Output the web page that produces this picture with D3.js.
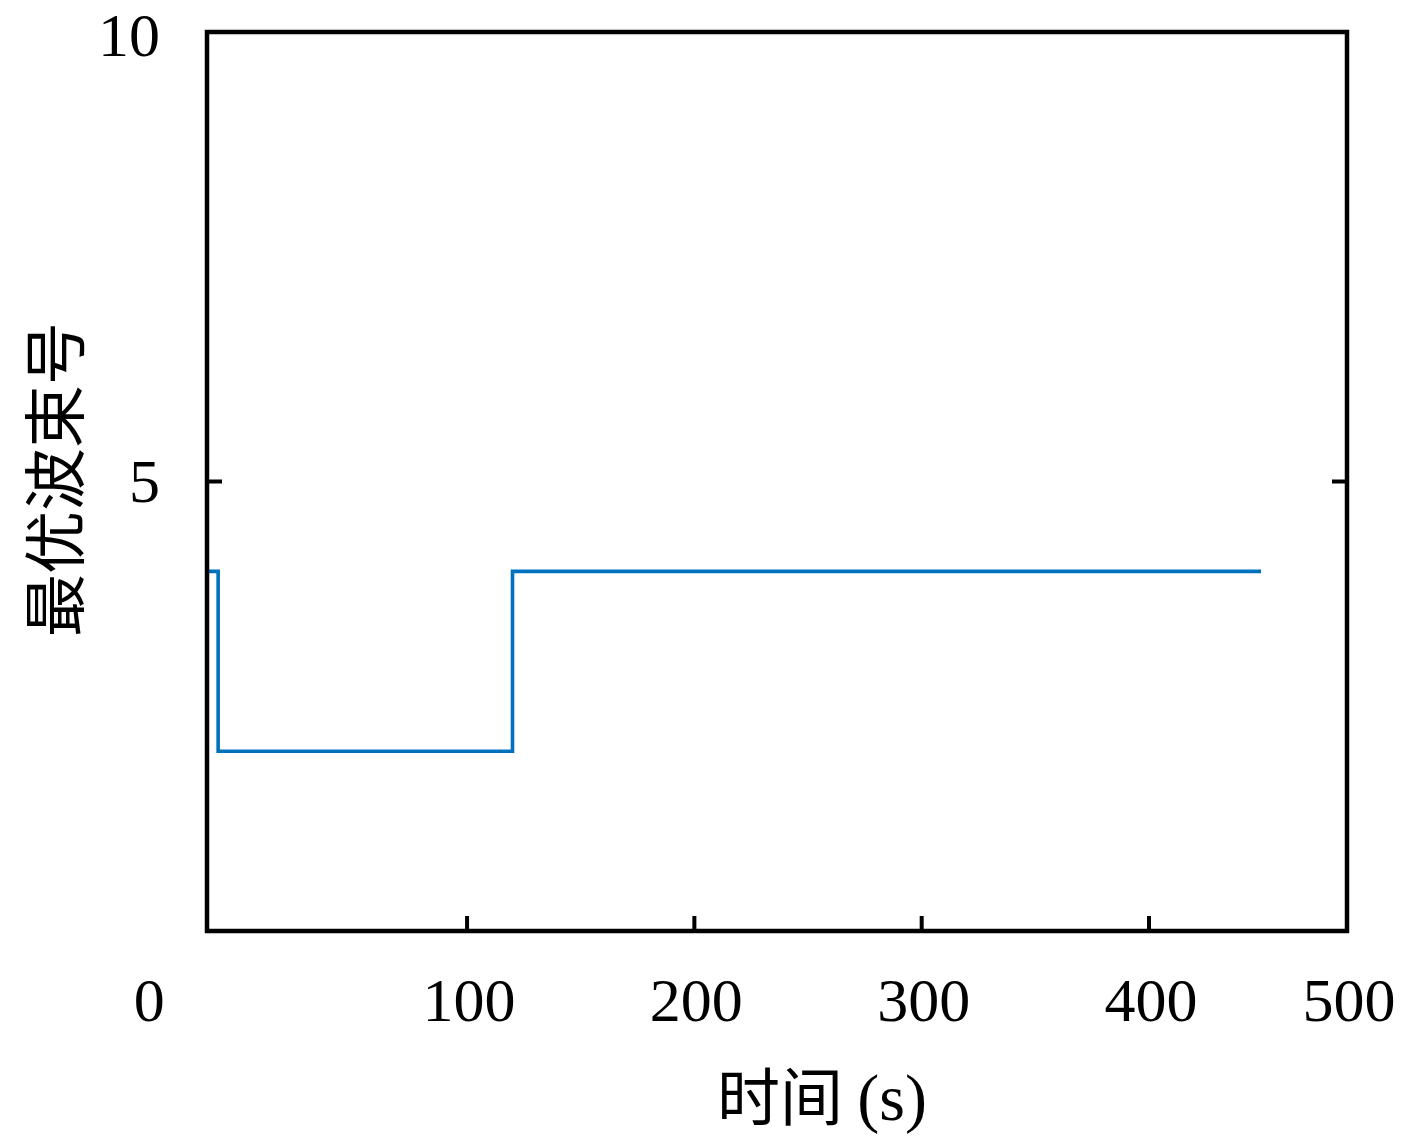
<!DOCTYPE html>
<html>
<head>
<meta charset="utf-8">
<script src="https://cdn.jsdelivr.net/npm/d3@7"></script>
<style>
  body { margin: 0; background: #fff; }
  .num { font-family: "Liberation Serif", "DejaVu Serif", serif; font-size: 62px; fill: #000; }
  .cjk { font-family: "Noto Sans CJK SC", sans-serif; font-size: 63px; fill: #000; }
  .ser { font-family: "Liberation Serif", "DejaVu Serif", serif; font-size: 66px; }
</style>
</head>
<body>
<div id="chart"></div>
<script>
// daten
const times = [-14.4, -9.5, 120, 449.3];
const beams = [4, 2, 4, 4];
const xTicks = [100, 200, 300, 400];
const xLabels = ["0", "100", "200", "300", "400", "500"];
const xLabelAt = [-40.7, 100, 200, 300, 400, 487.1];
const yTicks = [5];
const yLabels = ["10", "5"];
const yLabelAt = [10, 5];

const W = 1417, H = 1146;
const margin = {left: 207, right: 70, top: 32, bottom: 215};

const svg = d3.select("#chart").append("svg")
  .attr("width", W)
  .attr("height", H);

const x = d3.scaleLinear().domain([-14.4, 487.1]).range([margin.left, W - margin.right]);
const y = d3.scaleLinear().domain([0, 10]).range([H - margin.bottom, margin.top]);

// linie
const line = d3.line()
  .x((d, i) => x(times[i]))
  .y(d => y(d))
  .curve(d3.curveStepAfter);

svg.append("path")
  .datum(beams)
  .attr("d", line)
  .attr("fill", "none")
  .attr("stroke", "#0072BD")
  .attr("stroke-width", 3.6);

// ticks innen
svg.selectAll(".xt").data(xTicks).enter().append("line")
  .attr("x1", d => x(d)).attr("x2", d => x(d))
  .attr("y1", y(0)).attr("y2", y(0) - 15)
  .attr("stroke", "#000").attr("stroke-width", 4);

yTicks.forEach(function(t) {
  svg.append("line")
    .attr("x1", x.range()[0]).attr("x2", x.range()[0] + 15)
    .attr("y1", y(t)).attr("y2", y(t))
    .attr("stroke", "#000").attr("stroke-width", 4);
  svg.append("line")
    .attr("x1", x.range()[1]).attr("x2", x.range()[1] - 15)
    .attr("y1", y(t)).attr("y2", y(t))
    .attr("stroke", "#000").attr("stroke-width", 4);
});

// rahmen
svg.append("rect")
  .attr("x", x.range()[0]).attr("y", y(10))
  .attr("width", x.range()[1] - x.range()[0])
  .attr("height", y(0) - y(10))
  .attr("fill", "none")
  .attr("stroke", "#000")
  .attr("stroke-width", 4.5);

// beschriftung
svg.selectAll(".xl").data(xLabels).enter().append("text")
  .attr("class", "num")
  .attr("x", (d, i) => x(xLabelAt[i]) + 2)
  .attr("y", 1021)
  .attr("text-anchor", "middle")
  .text(d => d);

svg.selectAll(".yl").data(yLabels).enter().append("text")
  .attr("class", "num")
  .attr("x", 160)
  .attr("y", (d, i) => Math.max(y(yLabelAt[i]), 36))
  .attr("dy", "0.33em")
  .attr("text-anchor", "end")
  .text(d => d);

const xt = svg.append("text")
  .attr("class", "cjk")
  .attr("x", 822)
  .attr("y", 1120)
  .attr("text-anchor", "middle");
xt.append("tspan").text("时间 ");
xt.append("tspan").attr("class", "ser").text("(s)");

svg.append("text")
  .attr("class", "cjk")
  .attr("transform", "translate(78," + (y(5) - 2) + ") rotate(-90)")
  .attr("text-anchor", "middle")
  .text("最优波束号");
</script>
</body>
</html>
